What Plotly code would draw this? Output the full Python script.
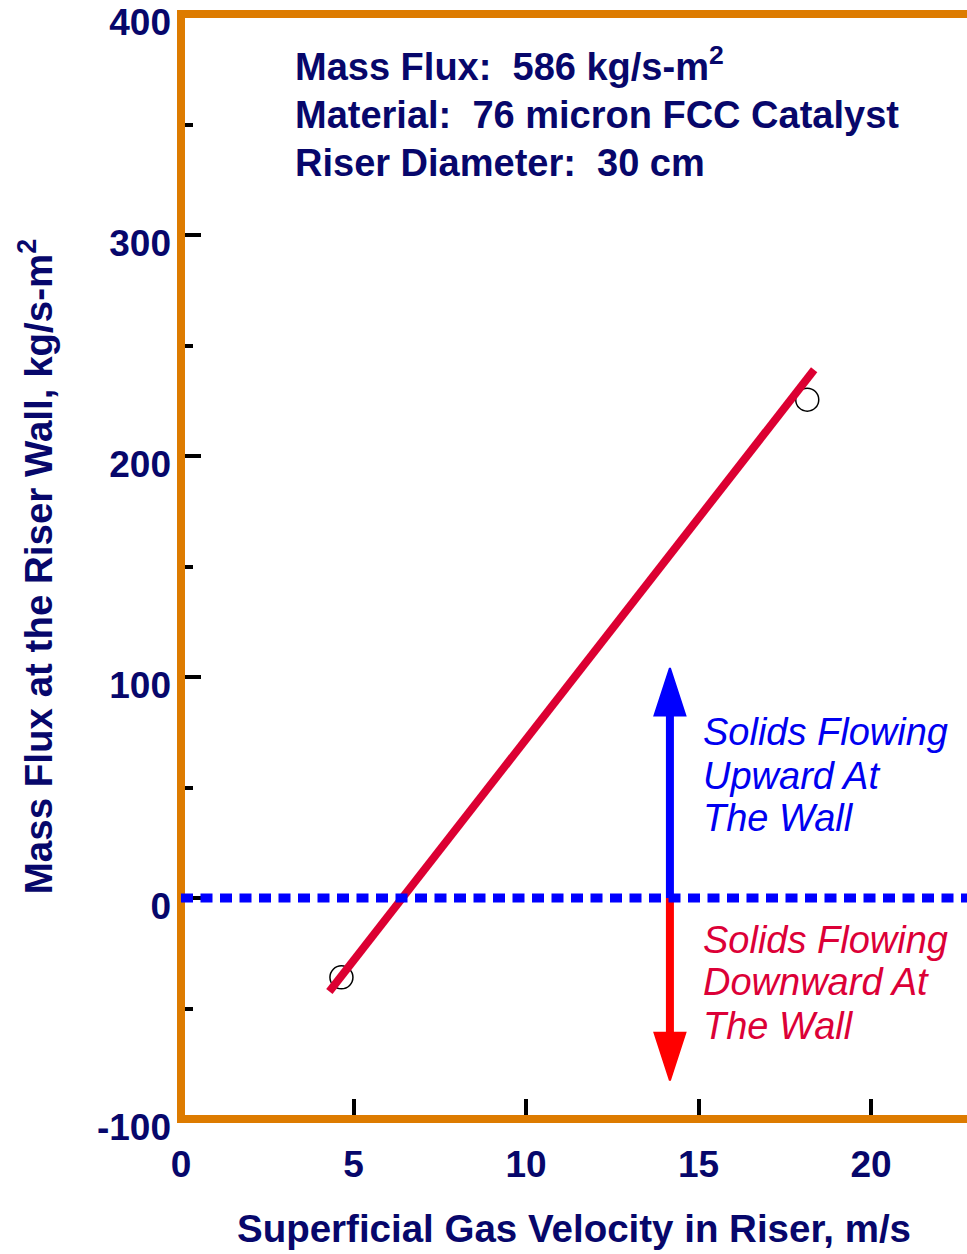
import plotly.graph_objects as go

# Measured wall mass flux at two superficial gas velocities
velocity_measured = [4.65, 18.15]
wall_flux_measured = [-35.9, 225.5]

# Linear trend through the measurements
velocity_trend = [4.30, 18.35]
wall_flux_trend = [-42.3, 239.0]

# Flow-direction indicator arrows
indicator_velocity = 14.17
upward_tip = 104.1
downward_tip = -82.5
flux_reference = 0

x_range = [0, 22.78]
y_range = [-100, 400]
x_ticks = [0, 5, 10, 15, 20]
y_ticks = [-100, 0, 100, 200, 300, 400]
y_tick_text = ["-100", "0", "100", "200", "300", "400"]
y_minor_ticks = [-50, 50, 150, 250, 350]

info_lines = [
    "Mass Flux:\u00a0 586 kg/s-m<sup>2</sup>",
    "Material:\u00a0 76 micron FCC Catalyst",
    "Riser Diameter:\u00a0 30 cm",
]
up_lines = ["Solids Flowing", "Upward At", "The Wall"]
down_lines = ["Solids Flowing", "Downward At", "The Wall"]

NAVY = "#07076b"
ORANGE = "#dd7b00"
TREND_RED = "#dc0032"
TEXT_BLUE = "#0000f0"
TEXT_RED = "#dc0037"
ARROW_BLUE = "#0000ff"
ARROW_RED = "#ff0000"
FONT = "Liberation Sans, Arial, sans-serif"

fig = go.Figure()

fig.add_trace(go.Scatter(
    x=velocity_measured, y=wall_flux_measured, mode="markers",
    marker=dict(symbol="circle-open", size=23, color="black", line=dict(width=1.5)),
    hoverinfo="skip", showlegend=False,
))

fig.add_trace(go.Scatter(
    x=velocity_trend, y=wall_flux_trend, mode="lines",
    line=dict(color=TREND_RED, width=8),
    hoverinfo="skip", showlegend=False,
))

# upward / downward arrows starting on the zero-flux line
for tip, colour in [(upward_tip, ARROW_BLUE), (downward_tip, ARROW_RED)]:
    fig.add_trace(go.Scatter(
        x=[indicator_velocity, indicator_velocity], y=[flux_reference, tip],
        mode="lines+markers",
        line=dict(color=colour, width=8, backoff=34),
        marker=dict(symbol="arrow", size=[0, 50], angleref="previous",
                    color=colour, opacity=1, line=dict(width=2, color=colour)),
        hoverinfo="skip", showlegend=False,
    ))

annotations = []

info_y = [365.5, 344.0, 322.3]
for line, yy in zip(info_lines, info_y):
    annotations.append(dict(
        x=3.25, y=yy, xref="x", yref="y", xanchor="left", yanchor="bottom",
        text=line, showarrow=False,
        font=dict(family=FONT, size=38, color=NAVY, weight="bold"),
    ))

up_y = [64.8, 44.9, 25.7]
for line, yy in zip(up_lines, up_y):
    annotations.append(dict(
        x=15.08, y=yy, xref="x", yref="y", xanchor="left", yanchor="bottom",
        text="<i>" + line + "</i>", showarrow=False,
        font=dict(family=FONT, size=38, color=TEXT_BLUE),
    ))

down_y = [-29.3, -48.6, -68.2]
for line, yy in zip(down_lines, down_y):
    annotations.append(dict(
        x=15.08, y=yy, xref="x", yref="y", xanchor="left", yanchor="bottom",
        text="<i>" + line + "</i>", showarrow=False,
        font=dict(family=FONT, size=38, color=TEXT_RED),
    ))

# orange frame on the left, top and bottom edges of the plot area
frame = dict(
    type="path", xref="paper", yref="paper",
    path="M 1,1 L 0,1 L 0,0 L 1,0",
    line=dict(color=ORANGE, width=8), layer="above",
)
zero_line = dict(
    type="line", xref="paper", x0=0, x1=1, yref="y",
    y0=flux_reference, y1=flux_reference,
    line=dict(color=ARROW_BLUE, width=9, dash="12px,7.5px"), layer="above",
)

fig.update_layout(
    width=967, height=1254,
    margin=dict(l=181, r=0, t=14, b=135),
    plot_bgcolor="white", paper_bgcolor="white",
    font=dict(family=FONT, color=NAVY),
    annotations=annotations,
    shapes=[frame, zero_line],
    xaxis=dict(
        range=x_range, tickmode="array", tickvals=x_ticks,
        ticks="inside", ticklen=20, tickwidth=4, tickcolor="black",
        showline=False, showgrid=False, zeroline=False,
        ticklabelstandoff=20,
        tickfont=dict(family=FONT, size=37, color=NAVY, weight="bold"),
        title=dict(text="Superficial Gas Velocity in Riser, m/s",
                   font=dict(family=FONT, size=38.5, color=NAVY, weight="bold"),
                   standoff=31),
    ),
    yaxis=dict(
        range=y_range, tickmode="array", tickvals=y_ticks, ticktext=y_tick_text,
        ticks="inside", ticklen=20, tickwidth=4, tickcolor="black",
        minor=dict(tickmode="array", tickvals=y_minor_ticks, ticks="inside",
                   ticklen=12, tickwidth=4, tickcolor="black", showgrid=False),
        showline=False, showgrid=False, zeroline=False,
        ticklabelshift=8, ticklabelstandoff=9, ticklabeloverflow="allow",
        tickfont=dict(family=FONT, size=37, color=NAVY, weight="bold"),
        title=dict(text="Mass Flux at the Riser Wall, kg/s-m<sup>2</sup>",
                   font=dict(family=FONT, size=38.5, color=NAVY, weight="bold"),
                   standoff=32),
    ),
)

fig.write_html("out.html")
